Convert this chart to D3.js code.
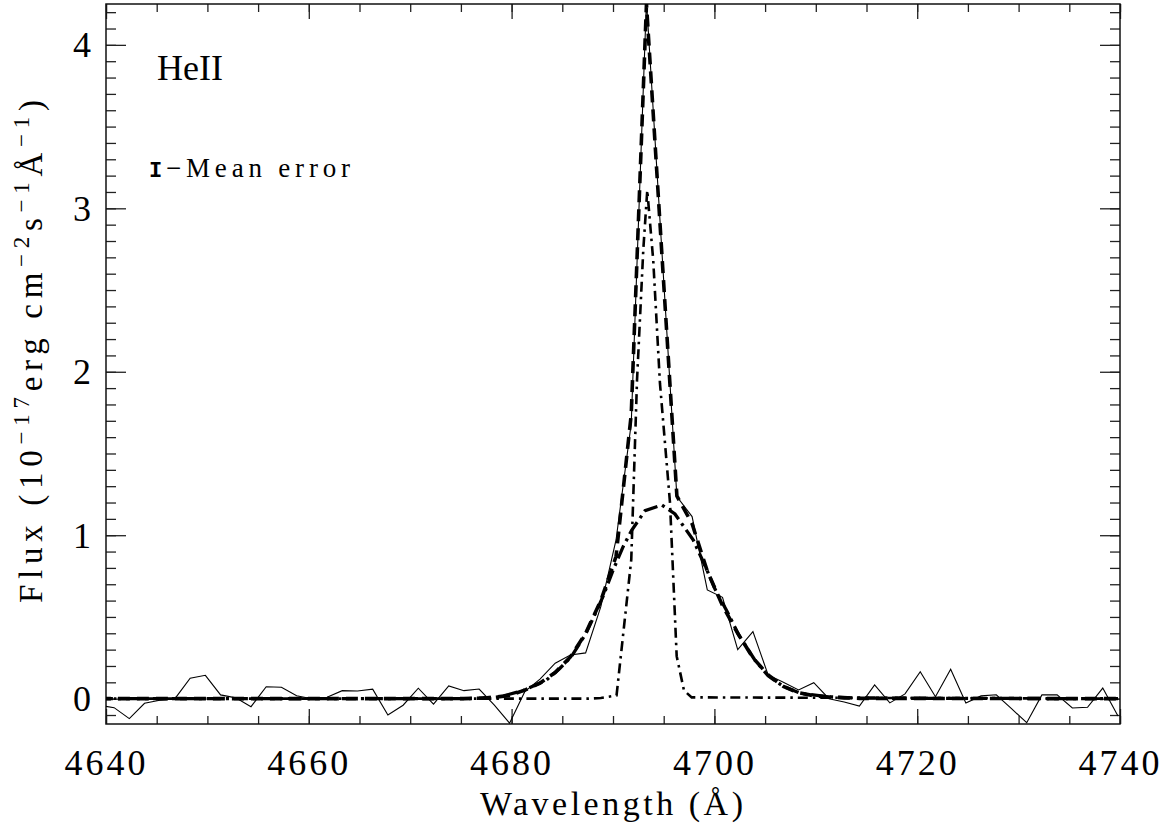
<!DOCTYPE html>
<html>
<head>
<meta charset="utf-8">
<script src="https://cdn.jsdelivr.net/npm/d3@7"></script>
<style>
  html, body { margin: 0; padding: 0; background: #fff; overflow: hidden; }
  svg { display: block; }
  .tick line { stroke: #222; stroke-width: 1.3; }
</style>
</head>
<body>
<div id="chart"></div>
<script>
// observed He II spectrum, [wavelength (Å), flux]
const observed = [
  [4639.3, -0.04], [4640.8, -0.055], [4642.3, -0.122], [4643.8, -0.028], [4645.3, -0.01],
  [4646.8, 0.0], [4648.3, 0.125], [4649.8, 0.143], [4651.3, 0.023], [4652.8, 0.005],
  [4654.3, -0.049], [4655.8, 0.073], [4657.3, 0.07], [4658.8, 0.018], [4660.3, 0.0],
  [4661.8, 0.009], [4663.3, 0.049], [4664.8, 0.047], [4666.3, 0.058], [4667.8, -0.1],
  [4669.3, -0.04], [4670.8, 0.064], [4672.3, -0.034], [4673.8, 0.078], [4675.3, 0.049],
  [4676.8, 0.059], [4678.3, -0.04], [4679.8, -0.15], [4681.3, 0.043], [4682.8, 0.12],
  [4684.3, 0.217], [4685.8, 0.267], [4687.3, 0.28], [4688.8, 0.563], [4690.3, 0.971],
  [4691.8, 1.685], [4693.3, 4.27], [4694.8, 2.76], [4696.3, 1.236], [4697.8, 1.114],
  [4699.3, 0.665], [4700.8, 0.62], [4702.3, 0.3], [4703.8, 0.41], [4705.3, 0.145],
  [4706.8, 0.1], [4708.3, 0.053], [4709.8, 0.098], [4711.3, 0.0], [4712.8, -0.02],
  [4714.3, -0.045], [4715.8, 0.084], [4717.3, -0.026], [4718.8, 0.029], [4720.3, 0.165],
  [4721.8, 0.012], [4723.3, 0.18], [4724.8, -0.026], [4726.3, 0.017], [4727.8, 0.024],
  [4729.3, -0.061], [4730.8, -0.147], [4732.3, 0.023], [4733.8, 0.023], [4735.3, -0.057],
  [4736.8, -0.053], [4738.3, 0.065], [4739.8, -0.106]
];

// total two-component fit (thick dashed)
const totalFit = [
  [4639.3, 0], [4675.3, 0], [4676.8, 0.003], [4678.3, 0.008], [4679.8, 0.02],
  [4681.3, 0.052], [4682.8, 0.095], [4684.3, 0.16], [4685.8, 0.255], [4687.3, 0.4],
  [4688.8, 0.6], [4690.3, 0.87], [4691.8, 1.74], [4693.3, 4.25], [4694.8, 2.74],
  [4696.3, 1.24], [4697.8, 1.07], [4699.3, 0.78], [4700.8, 0.57], [4702.3, 0.4],
  [4703.8, 0.25], [4705.3, 0.145], [4706.8, 0.075], [4708.3, 0.036], [4709.8, 0.018],
  [4711.3, 0.01], [4712.8, 0.005], [4714.3, 0.002], [4739.8, 0]
];

// broad component (thick dash-dot)
const broadFit = [
  [4639.3, 0], [4675.5, 0], [4677.2, 0.004], [4678.9, 0.012], [4681.15, 0.05],
  [4683.46, 0.115], [4684.77, 0.186], [4685.9, 0.257], [4687.34, 0.4], [4688.4, 0.54],
  [4689.05, 0.63], [4690.03, 0.79], [4691.0, 0.93], [4691.84, 1.03], [4693.16, 1.15],
  [4694.8, 1.185], [4696.11, 1.13], [4697.92, 0.97], [4699.24, 0.79], [4700.06, 0.67],
  [4701.2, 0.54], [4702.4, 0.39], [4704.0, 0.235], [4705.3, 0.14], [4706.8, 0.075],
  [4708.5, 0.033], [4711.1, 0.012], [4714.0, 0.003], [4739.8, 0]
];

// narrow component (dash-dot)
const narrowFit = [
  [4639.3, 0], [4687.5, 0], [4688.8, 0.004], [4690.35, 0.02], [4691.8, 0.85],
  [4692.37, 1.95], [4692.99, 2.75], [4693.38, 3.11], [4693.97, 2.68], [4694.63, 1.93],
  [4695.62, 1.2], [4695.95, 0.73], [4696.28, 0.26], [4697.0, 0.05], [4697.76, 0.008],
  [4739.8, 0]
];

const xMajor = [4640, 4660, 4680, 4700, 4720, 4740];
const xMinor = d3.range(4640, 4741, 5);
const yMajor = [0, 1, 2, 3, 4];
const yMinor = d3.range(-1, 43).map((d) => d / 10);

const width = 1171, height = 832;
const margin = { left: 106, top: 4, right: 51, bottom: 108 };
const innerWidth = width - margin.left - margin.right;
const innerHeight = height - margin.top - margin.bottom;

const svg = d3.select("#chart").append("svg").attr("width", width).attr("height", height);

const x = d3.scaleLinear().domain([4640, 4740]).range([margin.left, margin.left + innerWidth]);
const y = d3.scaleLinear().domain([-0.155, 4.25]).range([margin.top + innerHeight, margin.top]);

svg.append("defs").append("clipPath").attr("id", "plotClip")
  .append("rect").attr("x", margin.left).attr("y", margin.top).attr("width", innerWidth).attr("height", innerHeight);

// ticks (all pointing inward); minor/mirror axes carry no labels
const bottom = margin.top + innerHeight, right = margin.left + innerWidth;
function addAxis(axis, tx, ty) {
  const g = svg.append("g").attr("transform", `translate(${tx},${ty})`).call(axis);
  g.select(".domain").remove();
  g.selectAll("text").filter(function () { return this.textContent === ""; }).remove();
  g.selectAll("text")
    .attr("font-family", "'Liberation Serif', serif")
    .attr("font-size", 36)
    .attr("letter-spacing", 3)
    .attr("fill", "#000");
  return g;
}
addAxis(d3.axisBottom(x).tickValues(xMinor).tickSize(-8).tickFormat(""), 0, bottom);
const xLab = addAxis(d3.axisBottom(x).tickValues(xMajor).tickSize(-15).tickFormat(d3.format("d")), 0, bottom);
xLab.selectAll("text").attr("dy", null).attr("y", 51);
addAxis(d3.axisTop(x).tickValues(xMinor).tickSize(-8).tickFormat(""), 0, margin.top);
addAxis(d3.axisTop(x).tickValues(xMajor).tickSize(-15).tickFormat(""), 0, margin.top);
addAxis(d3.axisLeft(y).tickValues(yMinor).tickSize(-10).tickFormat(""), margin.left, 0);
const yLab = addAxis(d3.axisLeft(y).tickValues(yMajor).tickSize(-20).tickFormat(d3.format("d")), margin.left, 0);
yLab.selectAll("text").attr("dy", null).attr("y", 12).attr("x", -12);
addAxis(d3.axisRight(y).tickValues(yMinor).tickSize(-10).tickFormat(""), right, 0);
addAxis(d3.axisRight(y).tickValues(yMajor).tickSize(-20).tickFormat(""), right, 0);

svg.append("rect")
  .attr("x", margin.left).attr("y", margin.top)
  .attr("width", innerWidth).attr("height", innerHeight)
  .attr("fill", "none").attr("stroke", "#111").attr("stroke-width", 1.5);

// curves
const line = d3.line().x((d) => x(d[0])).y((d) => y(d[1]));
const plot = svg.append("g").attr("clip-path", "url(#plotClip)");

plot.append("path").datum(observed).attr("d", line)
  .attr("fill", "none").attr("stroke", "#000").attr("stroke-width", 1.1);
plot.append("path").datum(narrowFit).attr("d", line)
  .attr("fill", "none").attr("stroke", "#000").attr("stroke-width", 2.6)
  .attr("stroke-dasharray", "10 5 2.5 5");
plot.append("path").datum(broadFit).attr("d", line)
  .attr("fill", "none").attr("stroke", "#000").attr("stroke-width", 3.3)
  .attr("stroke-dasharray", "14 5 3 5");
plot.append("path").datum(totalFit).attr("d", line)
  .attr("fill", "none").attr("stroke", "#000").attr("stroke-width", 3.6)
  .attr("stroke-dasharray", "12 7");

// labels
svg.append("text")
  .attr("x", 480).attr("y", 815)
  .attr("textLength", 263).attr("lengthAdjust", "spacing")
  .attr("font-family", "'Liberation Serif', serif").attr("font-size", 34)
  .text("Wavelength (Å)");

const yTitle = svg.append("text")
  .attr("transform", "translate(42,603) rotate(-90)")
  .attr("textLength", 503).attr("lengthAdjust", "spacing")
  .attr("font-family", "'Liberation Serif', serif").attr("font-size", 33);
const parts = [
  ["Flux (10", false], ["−17", true], ["erg cm", false], ["−2", true],
  ["s", false], ["−1", true], ["Å", false], ["−1", true], [")", false]
];
parts.forEach(([t, sup], i) => {
  yTitle.append("tspan")
    .attr("dy", i === 0 ? 0 : (sup ? -13 : 13))
    .attr("font-size", sup ? 23 : 33)
    .text(t);
});

svg.append("text")
  .attr("x", 157).attr("y", 80)
  .attr("font-family", "'Liberation Serif', serif").attr("font-size", 36)
  .text("HeII");

svg.append("text")
  .attr("x", 149).attr("y", 177)
  .attr("font-family", "'Liberation Mono', monospace").attr("font-size", 22).attr("font-weight", "bold")
  .text("I");
svg.append("text")
  .attr("x", 166).attr("y", 177)
  .attr("textLength", 184).attr("lengthAdjust", "spacing")
  .attr("font-family", "'Liberation Serif', serif").attr("font-size", 27)
  .text("−Mean error");
</script>
</body>
</html>
